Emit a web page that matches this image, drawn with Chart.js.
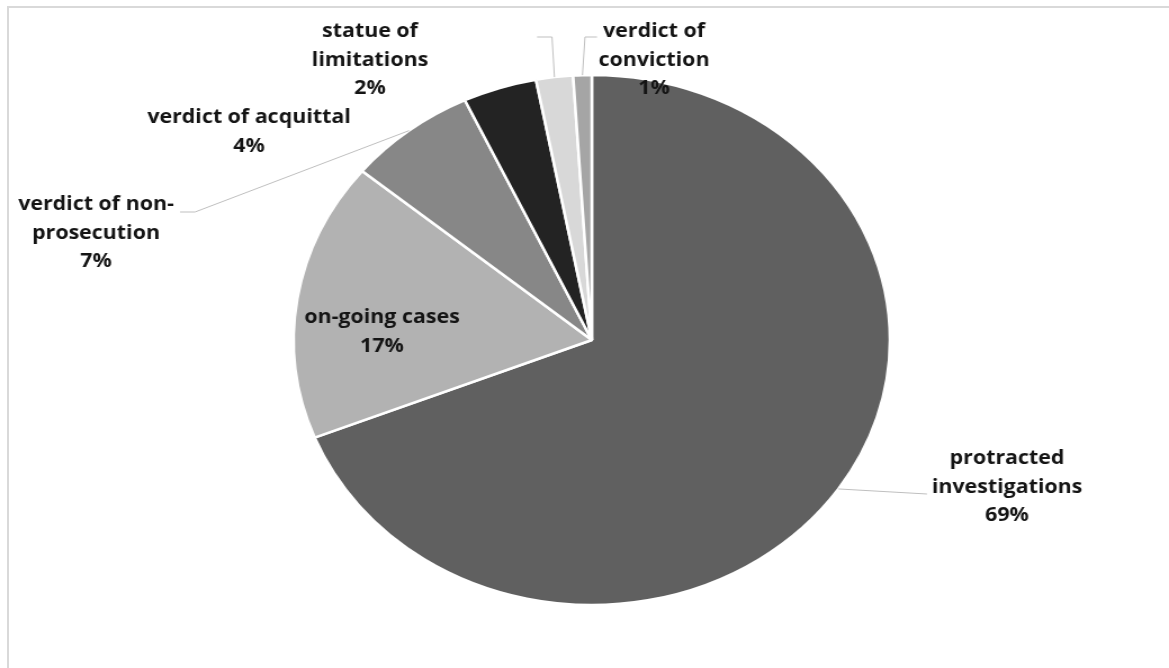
<!DOCTYPE html>
<html lang="en">
<head>
<meta charset="UTF-8">
<title>Case outcomes</title>
<script src="https://cdn.jsdelivr.net/npm/chart.js"></script>
<style>
  html, body { margin: 0; padding: 0; background: #fff; overflow: hidden; }
  .frame {
    position: absolute; left: 7px; top: 6px;
    width: 1200px; height: 700px;
    border: 2px solid #d9d9d9;
  }
  /* the pie is drawn a bit wider than tall, so the canvas is stretched sideways */
  .stretch {
    position: absolute; left: 0; top: 0;
    width: 1039px; height: 668px;
    transform: scaleX(1.12512); transform-origin: 0 0;
  }
</style>
</head>
<body>
<div class="frame"></div>
<div class="stretch"><canvas id="outcomeChart"></canvas></div>

<script>
// label text split the way it wraps on the chart
const categories = [
    ['protracted', 'investigations'],
    ['on-going cases'],
    ['verdict of non-', 'prosecution'],
    ['verdict of acquittal'],
    ['statue of', 'limitations'],
    ['verdict of', 'conviction']
];
const shares = [69, 17, 7, 4, 2, 1];
const sliceColors = ['#606060', '#b2b2b2', '#878787', '#232323', '#d8d8d8', '#a5a5a5'];

// where each label block sits on the page (centre x, middle of first line)
const labelSpots = [[1007, 459], [382, 318], [96, 205], [249, 118], [370, 32], [654, 32]];
// leader line bends on the page, null means no leader
const leaderBends = [
    [[927, 494]],
    null,
    [[195, 212], [180, 212]],
    null,
    [[552, 37], [537, 37]],
    [[585, 37], [597, 37]]
];

const SX = 1169 / 1039;

const calloutPlugin = {
    id: 'callouts',
    afterDatasetsDraw(chart) {
        const ctx = chart.ctx;
        const arcs = chart.getDatasetMeta(0).data;
        const total = shares.reduce((a, b) => a + b, 0);
        ctx.save();

        // leader lines start at the middle of each slice's outer edge
        ctx.strokeStyle = '#bfbfbf';
        ctx.lineWidth = 1;
        arcs.forEach((arc, i) => {
            const bends = leaderBends[i];
            if (!bends) return;
            const mid = (arc.startAngle + arc.endAngle) / 2;
            ctx.beginPath();
            ctx.moveTo(arc.x + Math.cos(mid) * arc.outerRadius, arc.y + Math.sin(mid) * arc.outerRadius);
            bends.forEach(([px, py]) => ctx.lineTo(px / SX, py));
            ctx.stroke();
        });

        ctx.font = 'bold 19px "Open Sans", Lato, sans-serif';
        ctx.fillStyle = '#141414';
        ctx.textAlign = 'center';
        ctx.textBaseline = 'middle';
        categories.forEach((lines, i) => {
            const [cx, cy] = labelSpots[i];
            const rows = lines.concat(Math.round(shares[i] / total * 100) + '%');
            rows.forEach((t, k) => ctx.fillText(t, cx / SX, cy + k * 28.5));
        });
        ctx.restore();
    }
};

new Chart(document.getElementById('outcomeChart'), {
    type: 'pie',
    data: {
        labels: categories.map(l => l.join(' ')),
        datasets: [{
            data: shares,
            backgroundColor: sliceColors,
            borderColor: '#ffffff',
            borderWidth: 2.5
        }]
    },
    options: {
        responsive: true,
        maintainAspectRatio: false,
        animation: false,
        radius: 265,
        layout: { padding: { left: 13, top: 12 } },
        plugins: {
            legend: { display: false },
            tooltip: { enabled: false }
        }
    },
    plugins: [calloutPlugin]
});
</script>
</body>
</html>
